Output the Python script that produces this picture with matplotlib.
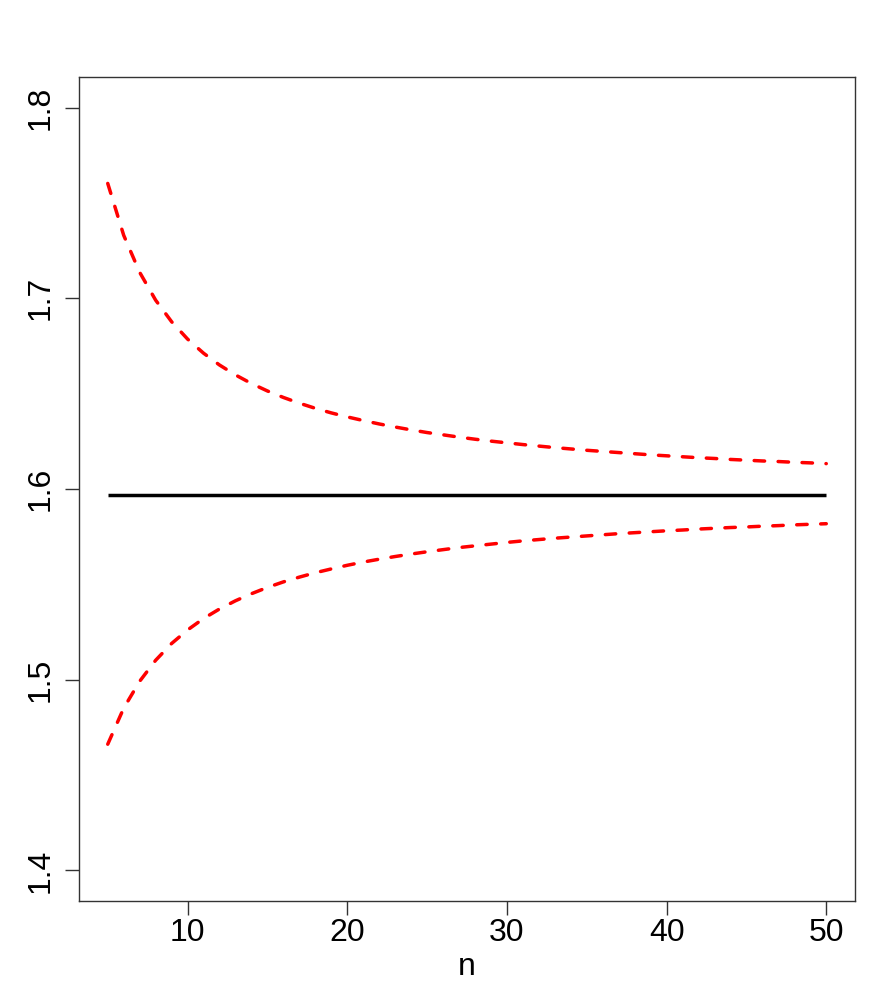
import numpy as np
import matplotlib
matplotlib.use('Agg')
from matplotlib import pyplot as plt

plt.rcParams['font.family'] = ['Liberation Sans', 'DejaVu Sans']

# sample sizes and values
n = list(range(5, 51))
centre = 1.597
upper = [1.7602, 1.7330, 1.7136, 1.6990, 1.6877, 1.6786, 1.6712, 1.6650, 1.6598, 1.6553,
         1.6514, 1.6480, 1.6450, 1.6423, 1.6399, 1.6378, 1.6359, 1.6341, 1.6325, 1.6310,
         1.6296, 1.6284, 1.6272, 1.6261, 1.6251, 1.6242, 1.6233, 1.6225, 1.6217, 1.6210,
         1.6203, 1.6197, 1.6191, 1.6185, 1.6179, 1.6174, 1.6169, 1.6164, 1.6160, 1.6155,
         1.6151, 1.6147, 1.6144, 1.6140, 1.6137, 1.6133]
lower = [1.4662, 1.4851, 1.4992, 1.5102, 1.5190, 1.5261, 1.5321, 1.5371, 1.5414, 1.5451,
         1.5484, 1.5513, 1.5538, 1.5561, 1.5581, 1.5600, 1.5617, 1.5632, 1.5646, 1.5659,
         1.5671, 1.5682, 1.5693, 1.5702, 1.5711, 1.5720, 1.5728, 1.5735, 1.5742, 1.5748,
         1.5754, 1.5760, 1.5766, 1.5771, 1.5776, 1.5781, 1.5785, 1.5790, 1.5794, 1.5798,
         1.5801, 1.5805, 1.5808, 1.5812, 1.5815, 1.5818]
xticks = [10, 20, 30, 40, 50]
yticks = [1.4, 1.5, 1.6, 1.7, 1.8]

fig = plt.figure(figsize=(8.96, 10), dpi=100)
ax = fig.add_axes([79 / 896, 1 - 901 / 1000, 776 / 896, 824 / 1000])

# centre line and the two dashed bounds
ax.plot(n, [centre] * len(n), color='black', lw=2.5, solid_capstyle='butt')
ax.plot(n, upper, color='#ff0000', lw=2.5, dashes=(3.0, 3.9), dash_capstyle='round')
ax.plot(n, lower, color='#ff0000', lw=2.5, dashes=(3.0, 3.9), dash_capstyle='round')

ax.set_xlim(5 - 0.04 * 45, 50 + 0.04 * 45)
ax.set_ylim(1.4 - 0.04 * 0.4, 1.8 + 0.04 * 0.4)
ax.set_xticks(xticks)
ax.set_yticks(yticks)
ax.set_xticklabels([str(v) for v in xticks], fontsize=23)
ax.set_yticklabels(['%.1f' % v for v in yticks], fontsize=23, rotation=90, va='center')
ax.tick_params(axis='x', length=10, width=1, color='#333333', pad=2)
ax.tick_params(axis='y', length=10, width=1, color='#333333', pad=7)
for s in ax.spines.values():
    s.set_color('#333333')
    s.set_linewidth(1)

ax.set_xlabel('n', fontsize=23, labelpad=3)

fig.savefig('out.png', dpi=100)
